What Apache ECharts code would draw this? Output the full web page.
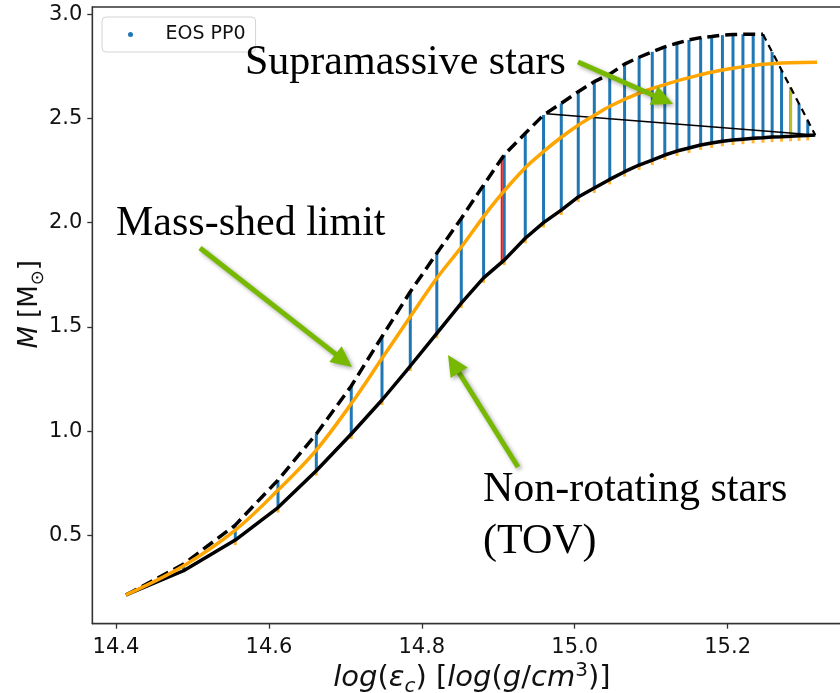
<!DOCTYPE html>
<html><head><meta charset="utf-8">
<script src="https://cdn.jsdelivr.net/npm/echarts@6/dist/echarts.min.js"></script>
<style>html,body{margin:0;padding:0;background:#fff}#c{width:840px;height:693px}</style>
</head><body><div id="c"></div>
<script>
// ---- data ----
const logEc = [14.4131,14.4884,14.5560,14.6119,14.6620,14.7077,14.7479,14.7849,14.8196,14.8516,14.8808,14.9078,14.9353,14.9592,14.9824,15.0046,15.0256,15.0458,15.0652,15.0842,15.1014,15.1178,15.1337,15.1494,15.1647,15.1791,15.1932,15.2070,15.2200,15.2334,15.2462,15.2582,15.2705,15.2823,15.2934,15.3048,15.3146];
const massTOV = [0.214,0.330,0.477,0.633,0.810,0.986,1.149,1.312,1.469,1.614,1.735,1.820,1.925,2.000,2.060,2.123,2.166,2.207,2.244,2.276,2.300,2.324,2.343,2.358,2.372,2.382,2.390,2.396,2.400,2.404,2.407,2.410,2.412,2.414,2.416,2.418,2.420];
const massShed = [0.214,0.362,0.549,0.765,0.986,1.216,1.453,1.668,1.853,2.020,2.180,2.325,2.428,2.516,2.572,2.628,2.676,2.712,2.760,2.793,2.819,2.843,2.860,2.876,2.887,2.893,2.899,2.902,2.903,2.903,2.903,2.818,2.731,2.650,2.570,2.489,2.420];
const orangeX = [14.413,14.488,14.556,14.612,14.662,14.708,14.748,14.785,14.820,14.852,14.881,14.905,14.935,14.959,14.982,15.005,15.026,15.046,15.085,15.118,15.150,15.180,15.207,15.246,15.282,15.317];
const orangeM = [0.214,0.353,0.525,0.717,0.909,1.133,1.349,1.549,1.735,1.884,2.030,2.140,2.262,2.340,2.408,2.468,2.515,2.558,2.622,2.662,2.695,2.722,2.740,2.759,2.767,2.769];
const thinLineX = [14.963, 15.3146];
const thinLineM = [2.522, 2.420];
const redX = [14.9045];
const redM = [1.810, 2.316];
const yellowX = [15.2823];
const yellowM = [2.414, 2.650];
const xTicks = [14.4, 14.6, 14.8, 15.0, 15.2];
const yTicks = [0.5, 1.0, 1.5, 2.0, 2.5, 3.0];
const legendName = 'EOS PP0';

// ---- build ----
const pairs = (xs, ys) => xs.map((x, i) => [x, ys[i]]);
const columns = [];
for (let i = 1; i < logEc.length - 1; i++) columns.push([logEc[i], massTOV[i], massShed[i]]);
const peakIdx = 30;

const chart = echarts.init(document.getElementById('c'), null, {renderer: 'canvas'});
const green = '#76b900';
function vline(color, w) {
  return (params, api) => {
    const p1 = api.coord([api.value(0), api.value(1)]);
    const p2 = api.coord([api.value(0), api.value(2)]);
    return {type: 'line', shape: {x1: p1[0], y1: p1[1], x2: p2[0], y2: p2[1]}, style: {stroke: color, lineWidth: w}};
  };
}
function arrow(sx, sy, tx, ty) {
  const dx = tx - sx, dy = ty - sy, L = Math.hypot(dx, dy), ux = dx / L, uy = dy / L, hl = 21, hw = 10;
  const bx = tx - ux * hl, by = ty - uy * hl;
  const sh = {shadowBlur: 4, shadowColor: 'rgba(0,0,0,0.35)', shadowOffsetX: 2, shadowOffsetY: 2};
  return [
    {type: 'line', z: 100, shape: {x1: sx, y1: sy, x2: bx + ux * 3, y2: by + uy * 3}, style: Object.assign({stroke: green, lineWidth: 5}, sh)},
    {type: 'polygon', z: 100, shape: {points: [[tx, ty], [bx - uy * hw, by + ux * hw], [bx + uy * hw, by - ux * hw]]}, style: Object.assign({fill: green}, sh)}
  ];
}
const serif = '42px "Liberation Serif", "Times New Roman", serif';
const ann = (text, x, y) => ({type: 'text', z: 100, style: {text, x, y, font: serif, fill: '#000', verticalAlign: 'middle', align: 'left'}});

const axisFont = {fontFamily: 'DejaVu Sans', fontSize: 21, color: '#111'};
const option = {
  backgroundColor: '#fff',
  animation: false,
  grid: {left: 92.3, top: 7, right: -11.5, bottom: 69.3, show: true, borderColor: '#333', borderWidth: 1.3, containLabel: false, outerBoundsMode: 'none'},
  legend: {
    left: 102, top: 17, orient: 'vertical',
    padding: [8, 10, 8, 26], itemWidth: 22, itemHeight: 5,
    borderColor: '#d4d4d4', borderWidth: 1, borderRadius: 4, backgroundColor: 'rgba(255,255,255,0.85)',
    data: [{name: legendName, icon: 'circle', itemStyle: {color: '#1f77b4'}}],
    formatter: n => '{a|' + n + '}',
    textStyle: {fontFamily: 'DejaVu Sans', fontSize: 19, color: '#111', rich: {a: {fontFamily: 'DejaVu Sans', fontSize: 19, color: '#111', padding: [0, 0, 0, 19]}}}
  },
  xAxis: {
    type: 'value', min: 14.369, max: 15.362,
    axisLine: {show: true, onZero: false, lineStyle: {color: '#333', width: 1.3}},
    axisTick: {show: true, length: 5, customValues: xTicks, lineStyle: {color: '#333', width: 1.3}},
    axisLabel: Object.assign({customValues: xTicks, formatter: v => v.toFixed(1), margin: 13}, axisFont),
    splitLine: {show: false},
    name: '{i|log}{n|(}{i|ε}{sub|c}{n|) [}{i|log}{n|(}{i|g}{n|/}{i|cm}{sup|3}{n|)]}',
    nameLocation: 'middle', nameGap: 37, nameMoveOverlap: false,
    nameTextStyle: {rich: {
      i: {fontFamily: 'DejaVu Sans', fontStyle: 'italic', fontSize: 29, color: '#111', lineHeight: 36},
      n: {fontFamily: 'DejaVu Sans', fontSize: 29, color: '#111', lineHeight: 36},
      sub: {fontFamily: 'DejaVu Sans', fontStyle: 'italic', fontSize: 20, color: '#111', lineHeight: 23, verticalAlign: 'bottom'},
      sup: {fontFamily: 'DejaVu Sans', fontSize: 20, color: '#111', lineHeight: 23, verticalAlign: 'top'}
    }}
  },
  yAxis: {
    type: 'value', min: 0.076, max: 3.034,
    axisLine: {show: true, onZero: false, lineStyle: {color: '#333', width: 1.3}},
    axisTick: {show: true, length: 5, customValues: yTicks, lineStyle: {color: '#333', width: 1.3}},
    axisLabel: Object.assign({customValues: yTicks, formatter: v => v.toFixed(1), margin: 10}, axisFont),
    splitLine: {show: false},
    name: '{i|M}{n| [M}{sub|⊙}{n|]}',
    nameLocation: 'middle', nameGap: 45, nameMoveOverlap: false,
    nameTextStyle: {padding: [0, 0, 0, 22], rich: {
      i: {fontFamily: 'DejaVu Sans', fontStyle: 'italic', fontSize: 26, color: '#111', lineHeight: 34},
      n: {fontFamily: 'DejaVu Sans', fontSize: 26, color: '#111', lineHeight: 34},
      sub: {fontFamily: 'DejaVu Sans', fontSize: 18, color: '#111', lineHeight: 21, verticalAlign: 'bottom'}
    }}
  },
  series: [
    {type: 'custom', name: legendName, data: columns, encode: {x: 0, y: [1, 2]}, renderItem: vline('#1f77b4', 3), itemStyle: {color: '#1f77b4'}, z: 2, silent: true},
    {type: 'custom', name: 'red', data: [[redX[0], redM[0], redM[1]]], encode: {x: 0, y: [1, 2]}, renderItem: vline('#f01010', 2), z: 3, silent: true},
    {type: 'custom', name: 'yellow', data: [[yellowX[0], yellowM[0], yellowM[1]]], encode: {x: 0, y: [1, 2]}, renderItem: vline('#bcbd22', 3), z: 3, silent: true},
    {type: 'scatter', name: 'low', data: pairs(logEc.slice(2, -1), massTOV.slice(2, -1)), symbol: 'rect', symbolSize: [3, 4], symbolOffset: [0, 3], itemStyle: {color: '#ffa500'}, z: 3, silent: true},
    {type: 'line', name: 'thin', data: pairs(thinLineX, thinLineM), showSymbol: false, symbol: 'none', lineStyle: {color: '#000', width: 1.6}, z: 4, silent: true},
    {type: 'line', name: 'TOV', data: pairs(logEc, massTOV), showSymbol: false, symbol: 'none', lineStyle: {color: '#000', width: 3.5}, z: 5, silent: true},
    {type: 'line', name: 'shed', data: pairs(logEc.slice(0, peakIdx + 1), massShed.slice(0, peakIdx + 1)), showSymbol: false, symbol: 'none', lineStyle: {color: '#000', width: 3.5, type: [12, 6]}, z: 5, silent: true},
    {type: 'line', name: 'shedTail', data: [[logEc[peakIdx], massShed[peakIdx]], [logEc[logEc.length - 1], massShed[massShed.length - 1]]], showSymbol: false, symbol: 'none', lineStyle: {color: '#000', width: 2.2, type: [7, 5]}, z: 5, silent: true},
    {type: 'line', name: 'orange', data: pairs(orangeX, orangeM), showSymbol: false, symbol: 'none', smooth: 0.35, lineStyle: {color: '#ffa500', width: 3.5}, z: 6, silent: true}
  ],
  graphic: [
    ann('Supramassive stars', 245, 63),
    ann('Mass-shed limit', 116, 224),
    ann('Non-rotating stars', 483, 490),
    ann('(TOV)', 483, 542),
    ...arrow(578, 62, 673, 104),
    ...arrow(200, 248, 352, 367),
    ...arrow(518, 467, 448, 355)
  ]
};
chart.setOption(option);
</script></body></html>
